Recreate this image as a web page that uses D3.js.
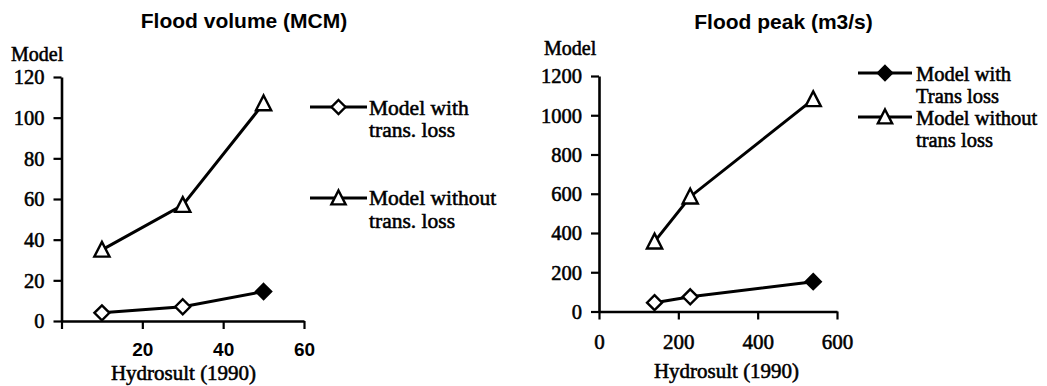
<!DOCTYPE html>
<html>
<head>
<meta charset="utf-8">
<script src="https://cdn.jsdelivr.net/npm/d3@7"></script>
<style>
  html, body { margin: 0; padding: 0; background: #fff; }
  svg { display: block; }
</style>
</head>
<body>
<svg id="chart" width="1047" height="386"></svg>
<script>
// Flood volume (MCM): Hydrosult (1990) vs model
const volHydrosult = [10, 30, 50];
const volWithLoss = [4, 7, 14.5];
const volWithoutLoss = [35, 57, 107];
const volXTicks = [0, 20, 40, 60];
const volYTicks = [0, 20, 40, 60, 80, 100, 120];

// Flood peak (m3/s): Hydrosult (1990) vs model
const peakHydrosult = [140, 230, 540];
const peakWithLoss = [45, 75, 152];
const peakWithoutLoss = [356, 585, 1081];
const peakXTicks = [0, 200, 400, 600];
const peakYTicks = [0, 200, 400, 600, 800, 1000, 1200];

const SERIF = '"Liberation Serif", "Times New Roman", serif';
const SANS = '"Liberation Sans", Arial, sans-serif';

const svg = d3.select("#chart");

const diamond = r => `M0,${-r}L${r},0L0,${r}L${-r},0Z`;
const triangle = r => `M0,${-r}L${r*0.95},${r*0.85}L${-r*0.95},${r*0.85}Z`;

function styleText(sel, family, size, bold) {
  sel.style("font-family", family)
     .style("font-size", size + "px")
     .style("font-weight", bold ? "bold" : "normal")
     .attr("fill", "#000");
  if (!bold) sel.attr("stroke", "#000").attr("stroke-width", 0.55);
  return sel;
}

function drawAxes(g, x, y, xTicks, yTicks, xFmt, xFamily, xBold, xSize, xOffset) {
  const ax = g.append("g").attr("transform", `translate(0,${y(0)})`)
    .call(d3.axisBottom(x).tickValues(xTicks).tickSize(8).tickSizeOuter(0).tickFormat(xFmt));
  styleText(ax.selectAll("text"), xFamily, xSize, xBold).attr("dy", null).attr("y", xOffset);
  const ay = g.append("g").attr("transform", `translate(${x(0)},0)`)
    .call(d3.axisLeft(y).tickValues(yTicks).tickSize(8).tickSizeOuter(0).tickFormat(d3.format("d")));
  styleText(ay.selectAll("text"), SERIF, 20.5, false).attr("x", -17).attr("dy", "0.34em");
  g.selectAll(".domain").attr("stroke", "#000").attr("stroke-width", 2.6);
  g.selectAll(".tick line").attr("stroke", "#000").attr("stroke-width", 2.2);
}

function drawSeries(g, x, y, xs, ys, shape, size) {
  const pts = xs.map((v, i) => [x(v), y(ys[i])]);
  g.append("path").attr("d", d3.line()(pts))
    .attr("fill", "none").attr("stroke", "#000").attr("stroke-width", 3);
  g.selectAll(null).data(pts).enter().append("path")
    .attr("transform", d => `translate(${d[0]},${d[1]})`)
    .attr("d", shape === "diamond" ? diamond(size) : triangle(size))
    .attr("fill", (d, i) => shape === "diamond" && i === pts.length - 1 ? "#000" : "#fff")
    .attr("stroke", "#000").attr("stroke-width", 2.4);
}

function legendItem(g, x1, x2, y, shape, filled) {
  g.append("line").attr("x1", x1).attr("x2", x2).attr("y1", y).attr("y2", y)
    .attr("stroke", "#000").attr("stroke-width", 3);
  g.append("path").attr("transform", `translate(${(x1 + x2) / 2},${y})`)
    .attr("d", shape === "diamond" ? diamond(7) : triangle(7.5))
    .attr("fill", filled ? "#000" : "#fff").attr("stroke", "#000").attr("stroke-width", 2.4);
}

function text(g, family, bold, size, x, y, str, anchor) {
  const t = g.append("text").attr("x", x).attr("y", y)
    .attr("text-anchor", anchor || "start").text(str);
  styleText(t, family, size, bold);
}

// ---- Left panel: flood volume ----
{
  const g = svg.append("g");
  const x = d3.scaleLinear().domain([0, 60]).range([61.5, 304]);
  const y = d3.scaleLinear().domain([0, 120]).range([321, 77]);
  drawAxes(g, x, y, volXTicks, volYTicks, d => d === 0 ? "" : d, SANS, true, 19, 34.5);
  drawSeries(g, x, y, volHydrosult, volWithoutLoss, "triangle", 8);
  drawSeries(g, x, y, volHydrosult, volWithLoss, "diamond", 7.5);

  text(g, SANS, true, 21, 244, 28, "Flood volume (MCM)", "middle");
  text(g, SERIF, false, 20, 11, 61, "Model");
  text(g, SERIF, false, 21, 183.5, 380, "Hydrosult (1990)", "middle");

  legendItem(g, 310, 367, 107, "diamond", false);
  text(g, SERIF, false, 21.5, 369, 115, "Model with");
  text(g, SERIF, false, 21.5, 369, 137, "trans. loss");
  legendItem(g, 310, 367, 198, "triangle", false);
  text(g, SERIF, false, 21.5, 369, 205, "Model without");
  text(g, SERIF, false, 21.5, 369, 228, "trans. loss");
}

// ---- Right panel: flood peak ----
{
  const g = svg.append("g");
  const x = d3.scaleLinear().domain([0, 600]).range([599, 837]);
  const y = d3.scaleLinear().domain([0, 1200]).range([311.5, 76]);
  drawAxes(g, x, y, peakXTicks, peakYTicks, d3.format("d"), SERIF, false, 21, 37.5);
  drawSeries(g, x, y, peakHydrosult, peakWithoutLoss, "triangle", 8);
  drawSeries(g, x, y, peakHydrosult, peakWithLoss, "diamond", 7.5);

  text(g, SANS, true, 21, 783.5, 29, "Flood peak (m3/s)", "middle");
  text(g, SERIF, false, 20, 544, 55, "Model");
  text(g, SERIF, false, 21, 726.5, 378, "Hydrosult (1990)", "middle");

  legendItem(g, 858, 912, 73, "diamond", true);
  text(g, SERIF, false, 20.5, 916, 81, "Model with");
  text(g, SERIF, false, 20.5, 916, 103, "Trans loss");
  legendItem(g, 858, 912, 117, "triangle", false);
  text(g, SERIF, false, 20.5, 916, 125, "Model without");
  text(g, SERIF, false, 20.5, 916, 147, "trans loss");
}
</script>
</body>
</html>
